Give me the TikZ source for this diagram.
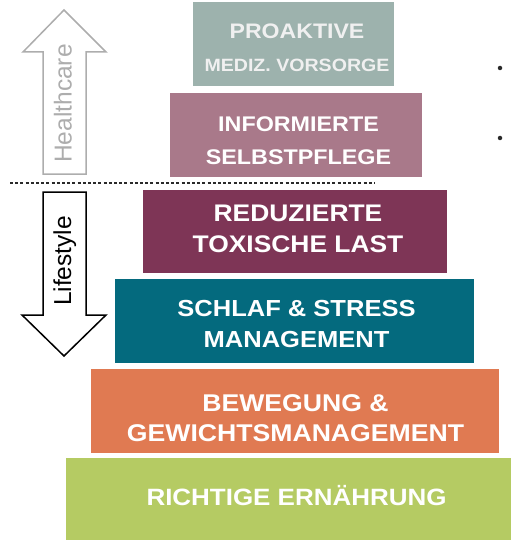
\documentclass[tikz,border=0pt]{standalone}
\usepackage{fontspec}
\setmainfont{Liberation Sans}
\newfontfamily\boxfont{Liberation Sans}[FakeStretch=1.1]
\newfontfamily\sidefont{Liberation Sans}
\definecolor{cProak}{HTML}{9DB2AD}
\definecolor{cInfo}{HTML}{A9798A}
\definecolor{cTox}{HTML}{7E3556}
\definecolor{cSleep}{HTML}{046A7E}
\definecolor{cMove}{HTML}{E07A52}
\definecolor{cFood}{HTML}{B5CB63}
\definecolor{cHealth}{HTML}{ADADAD}
\definecolor{cDots}{HTML}{2A2A2A}
\tikzset{
  tier/.style={draw=none, rectangle, inner sep=0pt, anchor=north west},
  tiertext/.style={text=white, align=center, inner sep=0pt, font=\boxfont\bfseries},
  sidearrow/.style={line width=1.5pt, line join=miter},
  sidelabel/.style={rotate=90, anchor=base, inner sep=0pt, font=\sidefont\fontsize{24.5}{28}\selectfont},
  bullet/.style={circle, fill=cDots, inner sep=0pt, minimum size=4.5pt}
}
\begin{document}
\begin{tikzpicture}[x=1pt,y=-1pt]
\useasboundingbox (0,0) rectangle (511,540);
% tiers
\node[tier, fill=cProak, minimum width=201pt, minimum height=84pt] (b1) at (193,2) {};
\node[tier, fill=cInfo, minimum width=252pt, minimum height=84pt] (b2) at (170,93) {};
\node[tier, fill=cTox, minimum width=304pt, minimum height=83pt] (b3) at (143,190) {};
\node[tier, fill=cSleep, minimum width=359pt, minimum height=84pt] (b4) at (115,279) {};
\node[tier, fill=cMove, minimum width=408pt, minimum height=84pt] (b5) at (91,369) {};
\node[tier, fill=cFood, minimum width=445pt, minimum height=82pt] (b6) at (66,458) {};
% texts
\node[tiertext, text=white!94!black, font=\boxfont\bfseries\fontsize{17.8}{33}\selectfont] (t1) at (297,48.2)
  {{\fontsize{21}{33}\selectfont PROAKTIVE}\\MEDIZ. VORSORGE};
\node[tiertext, font=\boxfont\bfseries\fontsize{21.2}{33}\selectfont] (t2) at (298.5,141)
  {INFORMIERTE\\SELBSTPFLEGE};
\node[tiertext, font=\boxfont\bfseries\fontsize{24}{31}\selectfont] (t3) at (298,229.1)
  {REDUZIERTE\\TOXISCHE LAST};
\node[tiertext, font=\boxfont\bfseries\fontsize{23.2}{31}\selectfont] (t4) at (296.5,324.3)
  {SCHLAF \& STRESS\\MANAGEMENT};
\node[tiertext, font=\boxfont\bfseries\fontsize{24.2}{30}\selectfont] (t5) at (295.5,418.5)
  {BEWEGUNG \&\\GEWICHTSMANAGEMENT};
\node[tiertext, anchor=base, font=\boxfont\bfseries\fontsize{23.6}{30}\selectfont] (t6) at (296.5,505)
  {RICHTIGE ERNÄHRUNG};
% dotted divider
\coordinate (dl) at (10,183);
\coordinate (dr) at (375,183);
\draw[cDots, line width=2.4pt, dash pattern=on 3pt off 2.2pt] (dl) -- (dr);
% healthcare arrow
\draw[sidearrow, draw=cHealth] (43,174) -- (43,52) -- (23,52) -- (64,10) -- (106,52) -- (86,52) -- (86,174) -- cycle;
\node[sidelabel, text=cHealth] (hc) at (71.5,103.5) {Healthcare};
% lifestyle arrow
\draw[sidearrow, draw=black] (43,192) -- (86,192) -- (86,315) -- (106,315) -- (64,356) -- (22,315) -- (43,315) -- cycle;
\node[sidelabel, text=black] (ls) at (71,261) {Lifestyle};
% bullets
\node[bullet] (d1) at (500,68) {};
\node[bullet] (d2) at (500,138) {};
\end{tikzpicture}
\end{document}
